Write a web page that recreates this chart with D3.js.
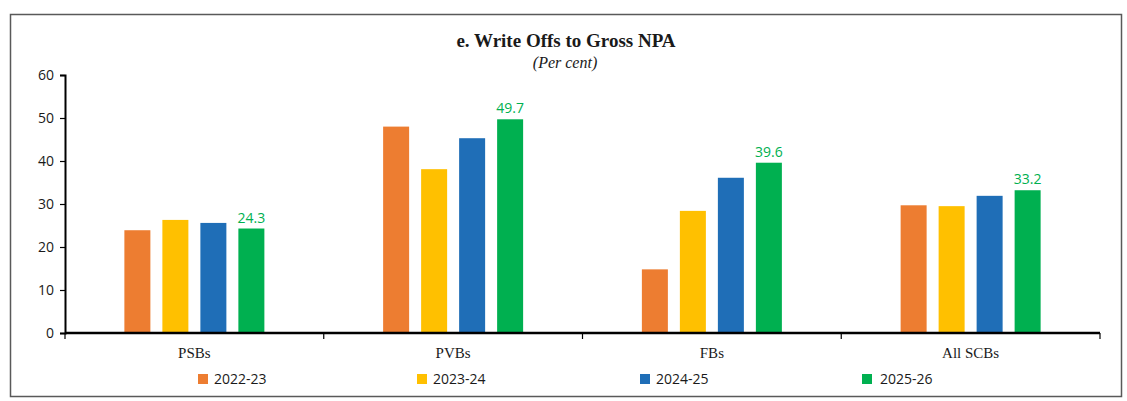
<!DOCTYPE html>
<html>
<head>
<meta charset="utf-8">
<script src="https://cdn.jsdelivr.net/npm/d3@7"></script>
<style>
  body { margin: 0; background: #fff; }
  svg { display: block; }
</style>
</head>
<body>
<div id="chart"></div>
<script>
// bank groups along the x axis
const categories = ["PSBs", "PVBs", "FBs", "All SCBs"];
const years = ["2022-23", "2023-24", "2024-25", "2025-26"];
const colors = ["#ED7D31", "#FFC000", "#1F6EB7", "#00B050"];

// write offs as % of gross NPA, one array per year
const v2022 = [23.9, 48.0, 14.8, 29.7];
const v2023 = [26.3, 38.1, 28.4, 29.5];
const v2024 = [25.6, 45.3, 36.1, 31.9];
const v2025 = [24.3, 49.7, 39.6, 33.2];
const series = [v2022, v2023, v2024, v2025];

const yTicks = [0, 10, 20, 30, 40, 50, 60];

const width = 1127, height = 401;
const margin = {left: 65, right: 27, top: 75, bottom: 68};

const svg = d3.select("#chart").append("svg")
  .attr("width", width)
  .attr("height", height);

// outer frame
svg.append("rect")
  .attr("x", 10.5).attr("y", 14.5)
  .attr("width", 1111).attr("height", 382)
  .attr("fill", "none")
  .attr("stroke", "#595959")
  .attr("stroke-width", 1.5);

svg.append("text")
  .attr("x", 566).attr("y", 47)
  .attr("text-anchor", "middle")
  .attr("font-family", "Liberation Serif, serif")
  .attr("font-weight", "bold")
  .attr("font-size", 19)
  .attr("fill", "#1a1a1a")
  .text("e. Write Offs to Gross NPA");

svg.append("text")
  .attr("x", 565).attr("y", 68)
  .attr("text-anchor", "middle")
  .attr("font-family", "Liberation Serif, serif")
  .attr("font-style", "italic")
  .attr("font-size", 16)
  .attr("fill", "#1a1a1a")
  .text("(Per cent)");

const x0 = d3.scaleBand()
  .domain(categories)
  .range([margin.left, width - margin.right])
  .padding(0);

const groupW = 152;
const x1 = d3.scaleBand()
  .domain(years)
  .range([(x0.bandwidth() - groupW) / 2, (x0.bandwidth() + groupW) / 2])
  .paddingInner(12 / 38)
  .paddingOuter(6 / 38);

const y = d3.scaleLinear()
  .domain([0, 60])
  .range([height - margin.bottom, margin.top]);

// bars
const groups = svg.selectAll("g.cat")
  .data(categories)
  .enter()
  .append("g")
  .attr("class", "cat")
  .attr("transform", d => `translate(${x0(d)},0)`);

groups.selectAll("rect")
  .data((d, i) => years.map((yr, j) => ({yr: yr, v: series[j][i], c: colors[j]})))
  .enter()
  .append("rect")
  .attr("x", d => x1(d.yr))
  .attr("y", d => y(d.v))
  .attr("width", x1.bandwidth())
  .attr("height", d => y(0) - y(d.v))
  .attr("fill", d => d.c);

// value labels only on the latest year
groups.append("text")
  .attr("x", x1("2025-26") + x1.bandwidth() / 2)
  .attr("y", (d, i) => y(v2025[i]) - 6)
  .attr("text-anchor", "middle")
  .attr("font-family", "Open Sans, sans-serif")
  .attr("font-size", 14)
  .attr("fill", "#00B050")
  .text((d, i) => v2025[i].toFixed(1));

// y axis
const yAxis = svg.append("g")
  .attr("transform", `translate(${margin.left},0)`)
  .call(d3.axisLeft(y).tickValues(yTicks).tickSize(5).tickPadding(6));
yAxis.select(".domain").attr("stroke", "#000").attr("stroke-width", 2);
yAxis.selectAll(".tick line").attr("stroke", "#000").attr("stroke-width", 1.2);
yAxis.selectAll("text")
  .attr("font-family", "Open Sans, sans-serif")
  .attr("font-size", 14)
  .attr("fill", "#1a1a1a");

// x axis, ticks on the category boundaries
const xAxis = svg.append("g")
  .attr("transform", `translate(0,${y(0)})`);
xAxis.append("line")
  .attr("x1", margin.left).attr("x2", width - margin.right)
  .attr("y1", 0).attr("y2", 0)
  .attr("stroke", "#000").attr("stroke-width", 2.5);
const bounds = categories.map(c => x0(c)).concat([x0.range()[1]]);
xAxis.selectAll("line.tk")
  .data(bounds)
  .enter()
  .append("line")
  .attr("class", "tk")
  .attr("x1", d => d).attr("x2", d => d)
  .attr("y1", 0).attr("y2", 6)
  .attr("stroke", "#000").attr("stroke-width", 1.2);
xAxis.selectAll("text")
  .data(categories)
  .enter()
  .append("text")
  .attr("x", d => x0(d) + x0.bandwidth() / 2)
  .attr("y", 25)
  .attr("text-anchor", "middle")
  .attr("font-family", "Liberation Serif, serif")
  .attr("font-size", 15)
  .attr("fill", "#1a1a1a")
  .text(d => d);

// legend
const legendX = [198, 417, 640, 862];
const legend = svg.selectAll("g.leg")
  .data(years)
  .enter()
  .append("g")
  .attr("class", "leg")
  .attr("transform", (d, i) => `translate(${legendX[i]},374)`);
legend.append("rect")
  .attr("width", 10).attr("height", 10)
  .attr("fill", (d, i) => colors[i]);
legend.append("text")
  .attr("x", (d, i) => i == 3 ? 18 : 16)
  .attr("y", 10)
  .attr("font-family", "Open Sans, sans-serif")
  .attr("font-size", 14)
  .attr("fill", "#1a1a1a")
  .text(d => d);
</script>
</body>
</html>
